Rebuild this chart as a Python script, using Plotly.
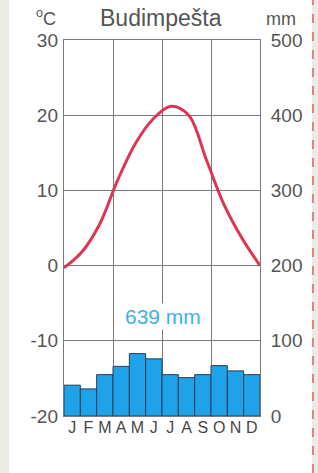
import plotly.graph_objects as go

months = ["J", "F", "M", "A", "M", "J", "J", "A", "S", "O", "N", "D"]
temperature = [-0.3, 1.8, 5.5, 11.3, 16.2, 19.5, 21.2, 20.0, 14.0, 8.0, 3.6, 0.0]
precipitation = [41, 36, 55, 66, 83, 76, 55, 51, 55, 67, 60, 55]
temp_ticks = [-20, -10, 0, 10, 20, 30]
temp_labels = ["-20", "-10", "0", "10", "20", "30"]
prec_ticks = [0, 100, 200, 300, 400, 500]
title_text = "Budimpešta"
total_text = "639 mm"

FONT = "Liberation Sans, Arial, sans-serif"
GRAY = "#555555"
GRID = "#7a7a7a"

W, H = 318, 473
L, R, T, B = 64, 58, 40, 57
PW, PH = W - L - R, H - T - B


def px(x):
    return (x - L) / PW


def py(y):
    return (H - B - y) / PH


fig = go.Figure()

# precipitation bars on the main subplot (x, y) – y is the right-hand mm axis
fig.add_trace(go.Bar(
    x=list(range(12)), y=precipitation, xaxis="x", yaxis="y",
    marker=dict(color="#1fa3e8", line=dict(color="#2b3e55", width=1)),
    width=1.0, showlegend=False, hoverinfo="skip",
))

# temperature curve on the overlay subplot (x2, y2) – y2 is the left-hand °C axis
fig.add_trace(go.Scatter(
    x=list(range(12)), y=temperature, xaxis="x2", yaxis="y2",
    mode="lines", line=dict(color="#dd3552", width=3, shape="spline", smoothing=1.0),
    showlegend=False, hoverinfo="skip",
))

fig.update_layout(
    width=W, height=H,
    margin=dict(l=L, r=R, t=T, b=B, pad=0, autoexpand=False),
    paper_bgcolor="#ebeae5",
    plot_bgcolor="white",
    bargap=0,
    hovermode=False,
    font=dict(family=FONT, color=GRAY, size=19),
    xaxis=dict(
        range=[-0.5, 11.5], tickmode="array", tickvals=list(range(12)), ticktext=months,
        showgrid=False, zeroline=False, showline=True, mirror=True, linecolor=GRID, linewidth=1,
        ticks="", tickfont=dict(size=16, color="#474747", family=FONT), ticklabelstandoff=-3,
        minor=dict(tickmode="array", tickvals=[2.5, 5.5, 8.5], showgrid=True, gridcolor=GRID, gridwidth=1, ticks=""),
        fixedrange=True,
    ),
    xaxis2=dict(range=[0, 11], overlaying="x", visible=False, fixedrange=True),
    yaxis=dict(
        range=[0, 500], tickmode="array", tickvals=prec_ticks, side="right",
        showgrid=True, gridcolor=GRID, gridwidth=1, zeroline=False,
        showline=True, mirror=True, linecolor=GRID, linewidth=1,
        ticks="", tickfont=dict(size=19, color=GRAY, family=FONT), ticklabelstandoff=6,
        fixedrange=True,
    ),
    yaxis2=dict(
        range=[-20, 30], tickmode="array", tickvals=temp_ticks, ticktext=temp_labels,
        overlaying="y", side="left",
        showgrid=False, zeroline=False, showline=False,
        ticks="", tickfont=dict(size=19, color=GRAY, family=FONT), ticklabelstandoff=5,
        fixedrange=True,
    ),
    shapes=[
        dict(type="rect", xref="paper", yref="paper", x0=px(9), x1=px(312), y0=py(H), y1=py(0),
             fillcolor="white", line=dict(width=0), layer="below"),
        dict(type="line", xref="paper", yref="paper", x0=px(313), x1=px(313), y0=py(H), y1=py(0),
             line=dict(color="#e06060", width=1.5, dash="dash"), layer="below"),
    ],
    annotations=[
        dict(text=title_text, xref="paper", yref="paper", x=px(161), y=py(18), showarrow=False,
             xanchor="center", yanchor="middle", font=dict(size=23, color=GRAY, family=FONT)),
        dict(text="<sup>o</sup>C", xref="paper", yref="paper", x=px(46), y=py(18), showarrow=False,
             xanchor="center", yanchor="middle", font=dict(size=18, color=GRAY, family=FONT)),
        dict(text="mm", xref="paper", yref="paper", x=px(281), y=py(19), showarrow=False,
             xanchor="center", yanchor="middle", font=dict(size=18, color=GRAY, family=FONT)),
        dict(text=total_text, xref="paper", yref="paper", x=px(163), y=py(316), showarrow=False,
             xanchor="center", yanchor="middle", bgcolor="white", borderpad=1,
             font=dict(size=21, color="#3fb1e3", family=FONT)),
    ],
)

fig.write_html(
    "out.html",
    config={"displayModeBar": False, "staticPlot": True},
    post_script="document.body.style.margin='0px';document.body.style.overflow='hidden';",
)
